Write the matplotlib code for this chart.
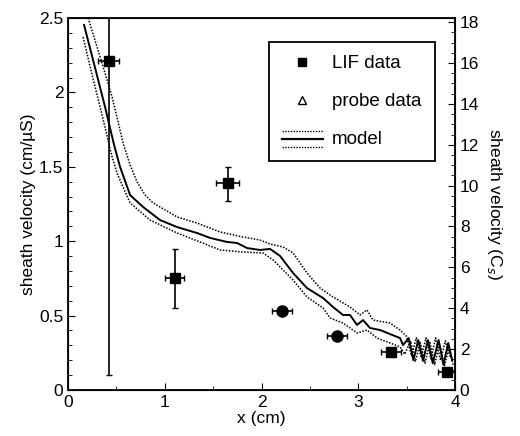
import matplotlib
matplotlib.use("Agg")
import matplotlib.pyplot as plt
from matplotlib.lines import Line2D
from matplotlib.legend_handler import HandlerBase
from matplotlib.ticker import MultipleLocator

plt.rcParams['font.family'] = ['Liberation Sans', 'DejaVu Sans']

# ---- data ----
# model: central curve
model_x = [0.165, 0.279, 0.382, 0.475, 0.537, 0.641, 0.775, 0.951, 1.127, 1.333, 1.468,
           1.643, 1.747, 1.850, 1.984, 2.088, 2.191, 2.326, 2.470, 2.636, 2.739, 2.842,
           2.915, 2.987, 3.049, 3.121, 3.225, 3.328, 3.432, 3.463, 3.52, 3.57, 3.62, 3.67,
           3.72, 3.77, 3.83, 3.88, 3.93, 3.97]
model_y = [2.453, 2.164, 1.902, 1.647, 1.499, 1.310, 1.23, 1.142, 1.095, 1.055, 1.022,
           0.995, 0.988, 0.954, 0.941, 0.948, 0.901, 0.786, 0.685, 0.618, 0.558, 0.504,
           0.504, 0.437, 0.470, 0.417, 0.403, 0.376, 0.349, 0.302, 0.349, 0.200, 0.336, 0.195,
           0.336, 0.180, 0.336, 0.170, 0.316, 0.200]
# model: upper bound
upper_x = [0.207, 0.331, 0.455, 0.568, 0.641, 0.713, 0.796, 0.879, 1.127, 1.333, 1.571,
           1.809, 1.984, 2.088, 2.222, 2.326, 2.470, 2.605, 2.739, 2.915, 3.018, 3.090,
           3.152, 3.328, 3.432, 3.50, 3.55, 3.60, 3.65, 3.70, 3.75, 3.80, 3.85, 3.90, 3.95]
upper_y = [2.50, 2.238, 1.969, 1.660, 1.512, 1.398, 1.310, 1.257, 1.163, 1.122, 1.062,
           1.028, 1.008, 0.981, 0.961, 0.921, 0.786, 0.685, 0.625, 0.558, 0.504, 0.538,
           0.470, 0.450, 0.403, 0.36, 0.23, 0.35, 0.22, 0.35, 0.21, 0.35, 0.20, 0.33, 0.22]
# model: lower bound
lower_x = [0.155, 0.248, 0.331, 0.455, 0.506, 0.558, 0.641, 0.848, 1.127, 1.364, 1.571,
           1.809, 2.016, 2.119, 2.326, 2.470, 2.636, 2.708, 2.842, 2.915, 2.987, 3.090,
           3.194, 3.328, 3.432, 3.48, 3.54, 3.59, 3.64, 3.69, 3.74, 3.79, 3.84, 3.89, 3.94, 3.98]
lower_y = [2.372, 2.117, 1.902, 1.566, 1.458, 1.378, 1.257, 1.142, 1.055, 0.995, 0.941,
           0.927, 0.921, 0.874, 0.739, 0.625, 0.551, 0.484, 0.450, 0.417, 0.383, 0.403,
           0.349, 0.316, 0.289, 0.24, 0.33, 0.19, 0.32, 0.18, 0.32, 0.17, 0.31, 0.16, 0.29, 0.17]

# LIF data (squares)
lif_x = [0.42, 1.65, 1.10, 3.34, 3.92]
lif_y = [2.21, 1.39, 0.75, 0.255, 0.12]
lif_xerr = [0.11, 0.12, 0.10, 0.10, 0.10]
lif_yerr_lo = [2.11, 0.12, 0.20, 0.0, 0.0]
lif_yerr_hi = [0.40, 0.11, 0.20, 0.0, 0.0]
# LIF data (round-looking symbols)
lifc_x = [2.21, 2.78]
lifc_y = [0.53, 0.36]
lifc_xerr = [0.10, 0.10]
lifc_yerr = [0.02, 0.02]

xlabel = "x (cm)"
ylabel_left = "sheath velocity (cm/\u00b5S)"
ylabel_right = "sheath velocity (C$_s$)"
legend_labels = ["LIF data", "probe data", "model"]

# ---- figure ----
fig = plt.figure(figsize=(5.2, 4.36), dpi=100)
ax = fig.add_axes([0.131, 0.1055, 0.744, 0.8532])

ax.plot(upper_x, upper_y, color='black', lw=1.1, ls=(0, (1, 1)))
ax.plot(lower_x, lower_y, color='black', lw=1.1, ls=(0, (1, 1)))
ax.plot(model_x, model_y, color='black', lw=1.4)

ax.errorbar(lif_x, lif_y, xerr=lif_xerr, yerr=[lif_yerr_lo, lif_yerr_hi], fmt='s',
            color='black', ms=7, elinewidth=1.2, capsize=2)
ax.errorbar(lifc_x, lifc_y, xerr=lifc_xerr, yerr=lifc_yerr, fmt='o',
            color='black', ms=8, elinewidth=1.2, capsize=2)

ax.set_xlim(0, 4)
ax.set_ylim(0, 2.5)
ax.xaxis.set_major_locator(MultipleLocator(1))
ax.xaxis.set_minor_locator(MultipleLocator(0.5))
ax.yaxis.set_minor_locator(MultipleLocator(0.1))
ax.set_yticks([0, 0.5, 1, 1.5, 2, 2.5])
ax.set_yticklabels(['0', '0.5', '1', '1.5', '2', '2.5'])
ax.tick_params(which='both', direction='in', labelsize=12.5)
ax.tick_params(which='major', length=5)
ax.tick_params(which='minor', length=3)
ax.tick_params(axis='y', which='both', right=False)
ax.set_xlabel(xlabel, fontsize=12.5, labelpad=1)
ax.set_ylabel(ylabel_left, fontsize=12.5, labelpad=2)
for s in ax.spines.values():
    s.set_linewidth(1.3)

ax2 = ax.twinx()
ax2.set_ylim(0, 18.2)
ax2.yaxis.set_major_locator(MultipleLocator(2))
ax2.yaxis.set_minor_locator(MultipleLocator(0.5))
ax2.tick_params(which='both', direction='in', labelsize=12.5)
ax2.tick_params(which='major', length=5)
ax2.tick_params(which='minor', length=3)
ax2.set_ylabel(ylabel_right, fontsize=12.5, rotation=270, labelpad=18)


class ModelHandler(HandlerBase):
    def create_artists(self, legend, orig_handle, xdescent, ydescent, width, height,
                       fontsize, trans):
        arts = []
        for frac, style, lw in [(1.0, (0, (1, 1)), 1.0), (0.4, '-', 1.6), (-0.25, (0, (1, 1)), 1.0)]:
            y = -ydescent + frac * height
            l = Line2D([-xdescent, -xdescent + width], [y, y], color='black', lw=lw, ls=style)
            l.set_transform(trans)
            arts.append(l)
        return arts


class ModelKey:
    pass


h_lif = Line2D([], [], marker='s', color='black', ls='none', ms=6)
h_probe = Line2D([], [], marker='^', markerfacecolor='white', markeredgecolor='black',
                 ls='none', ms=6)
h_model = ModelKey()
leg = ax.legend([h_lif, h_probe, h_model], legend_labels,
                handler_map={ModelKey: ModelHandler()},
                loc='upper right', bbox_to_anchor=(0.948, 0.935), borderaxespad=0,
                fontsize=13.5, fancybox=False, framealpha=1, edgecolor='black',
                borderpad=0.7, labelspacing=1.1, handlelength=2.2, handletextpad=0.5)
leg.get_frame().set_linewidth(1.3)

fig.savefig("out.png", dpi=100)
